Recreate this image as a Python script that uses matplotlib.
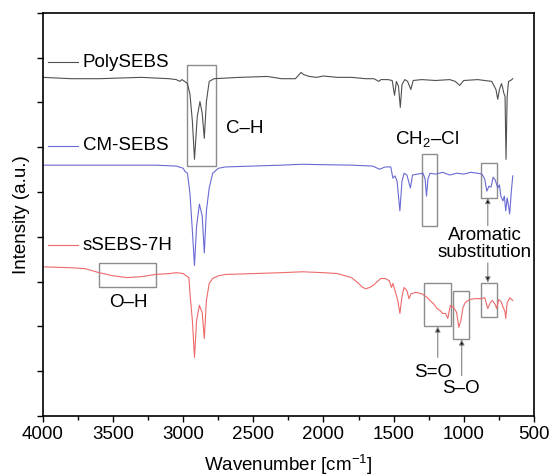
import matplotlib
matplotlib.use('Agg')
import matplotlib.pyplot as plt
from matplotlib.patches import Rectangle

plt.rcParams['font.family'] = ['Liberation Sans', 'DejaVu Sans']
plt.rcParams['mathtext.fontset'] = 'custom'
plt.rcParams['mathtext.rm'] = 'Liberation Sans'
plt.rcParams['mathtext.it'] = 'Liberation Sans'

# spectra: wavenumber [cm-1] and offset intensity
poly_wn = [4000, 3800, 3600, 3300, 3100, 3050, 3025, 3010, 2990, 2970, 2952, 2935, 2920, 2900,
           2881, 2865, 2850, 2835, 2815, 2780, 2600, 2400, 2300, 2200, 2160, 2140, 2100, 2050,
           2000, 1900, 1800, 1700, 1640, 1605, 1590, 1540, 1510, 1493, 1480, 1465, 1452, 1440,
           1420, 1400, 1377, 1360, 1300, 1200, 1100, 1060, 1028, 1000, 900, 850, 800, 770, 757,
           745, 730, 722, 715, 705, 698, 690, 680, 665, 650]
poly_int = [7.56, 7.53, 7.53, 7.56, 7.53, 7.51, 7.47, 7.51, 7.47, 7.42, 7.18, 6.58, 5.73, 6.69,
            7.02, 6.76, 6.20, 7.02, 7.47, 7.53, 7.56, 7.58, 7.53, 7.53, 7.67, 7.62, 7.58, 7.56,
            7.59, 7.56, 7.56, 7.53, 7.53, 7.47, 7.51, 7.51, 7.49, 7.16, 7.47, 7.36, 6.89, 7.40,
            7.51, 7.47, 7.29, 7.49, 7.51, 7.49, 7.51, 7.47, 7.38, 7.49, 7.51, 7.49, 7.47, 7.29,
            7.07, 7.29, 7.42, 7.33, 7.22, 7.13, 5.73, 7.13, 7.47, 7.49, 7.53]

cm_wn = [4000, 3600, 3200, 3050, 3000, 2990, 2970, 2952, 2935, 2920, 2905, 2885, 2865, 2850,
         2835, 2815, 2790, 2750, 2700, 2500, 2300, 2150, 2000, 1800, 1650, 1600, 1560, 1520,
         1505, 1490, 1475, 1455, 1440, 1425, 1405, 1380, 1365, 1330, 1290, 1275, 1265, 1255,
         1240, 1200, 1150, 1100, 1050, 1000, 950, 900, 870, 850, 835, 820, 805, 790, 775, 757,
         745, 735, 720, 710, 700, 690, 680, 672, 660, 650]
cm_int = [5.60, 5.60, 5.60, 5.58, 5.53, 5.47, 5.42, 4.96, 4.13, 3.36, 4.24, 4.73, 4.47, 3.64,
          4.58, 5.09, 5.42, 5.53, 5.56, 5.58, 5.60, 5.62, 5.61, 5.60, 5.58, 5.51, 5.56, 5.56,
          5.31, 5.36, 5.24, 4.58, 5.24, 5.42, 5.38, 5.09, 5.38, 5.40, 5.42, 5.29, 4.91, 5.29,
          5.42, 5.40, 5.44, 5.38, 5.42, 5.40, 5.44, 5.42, 5.40, 5.29, 5.02, 5.13, 5.11, 5.33,
          5.27, 5.09, 5.16, 4.91, 4.80, 4.91, 4.58, 4.87, 4.69, 4.51, 5.02, 5.36]

s_wn = [4000, 3800, 3700, 3600, 3500, 3400, 3300, 3200, 3100, 3050, 3000, 2980, 2960, 2952,
        2935, 2920, 2905, 2885, 2865, 2850, 2835, 2815, 2790, 2750, 2700, 2500, 2300, 2150,
        2000, 1900, 1800, 1750, 1720, 1698, 1670, 1640, 1610, 1590, 1560, 1530, 1515, 1505,
        1490, 1470, 1455, 1440, 1425, 1405, 1390, 1375, 1340, 1300, 1270, 1240, 1210, 1190,
        1170, 1150, 1130, 1113, 1095, 1075, 1050, 1035, 1020, 1005, 990, 960, 920, 880, 850,
        828, 810, 795, 775, 765, 750, 735, 720, 705, 700, 690, 670, 650]
s_int = [3.33, 3.31, 3.29, 3.20, 3.13, 3.09, 3.11, 3.16, 3.18, 3.20, 3.18, 3.13, 3.09, 2.73,
         2.13, 1.31, 2.13, 2.47, 2.31, 1.73, 2.58, 2.96, 3.07, 3.13, 3.16, 3.18, 3.20, 3.22,
         3.20, 3.18, 3.09, 2.96, 2.87, 2.84, 2.87, 2.93, 3.02, 3.07, 3.07, 3.02, 2.87, 2.96,
         2.80, 2.58, 2.29, 2.67, 2.87, 2.80, 2.62, 2.73, 2.76, 2.73, 2.67, 2.58, 2.49, 2.40,
         2.36, 2.29, 2.29, 2.18, 2.47, 2.44, 2.31, 1.98, 2.13, 2.42, 2.53, 2.60, 2.62, 2.62,
         2.64, 2.40, 2.53, 2.58, 2.49, 2.40, 2.60, 2.56, 2.44, 2.33, 2.18, 2.53, 2.64, 2.58]

names = ['PolySEBS', 'CM-SEBS', 'sSEBS-7H']
colors = ['#505050', '#6a6ad4', '#ee6a6a']

fig = plt.figure(figsize=(5.52, 4.76), dpi=100)
ax = fig.add_axes([0.078, 0.126, 0.889, 0.847])

series = [(poly_wn, poly_int), (cm_wn, cm_int), (s_wn, s_int)]
for (wn, it), c in zip(series, colors):
    ax.plot(wn, it, color=c, lw=0.8)

fs = 13.5

# legend-like labels
leg_y = [0.878, 0.670, 0.424]
for name, c, yy in zip(names, colors, leg_y):
    ax.plot([0.010, 0.071], [yy, yy], color=c, lw=0.8, transform=ax.transAxes)
    ax.text(0.081, yy, name, transform=ax.transAxes, va='center', ha='left', fontsize=fs)

box_c = '#8c8c8c'
def box(x0, x1, y0, y1):
    ax.add_patch(Rectangle((x1, y0), x0 - x1, y1 - y0, fill=False, ec=box_c, lw=1.0))

box(2974, 2767, 5.58, 7.84)      # C-H
box(1299, 1192, 4.24, 5.84)      # CH2-Cl
box(878, 764, 4.87, 5.64)        # aromatic (CM-SEBS)
box(878, 764, 2.20, 2.98)        # aromatic (sSEBS)
box(1284, 1092, 2.00, 2.96)      # S=O
box(1078, 964, 1.71, 2.78)       # S-O
box(3601, 3195, 2.87, 3.42)      # O-H

ax.text(2560, 6.42, 'C–H', ha='center', va='center', fontsize=fs)
ax.text(1263, 6.18, 'CH$_2$–Cl', ha='center', va='center', fontsize=fs)
ax.text(3394, 2.53, 'O–H', ha='center', va='center', fontsize=fs)
ax.text(850, 3.84, 'Aromatic\nsubstitution', ha='center', va='center', fontsize=fs,
        linespacing=0.95)
ax.text(1220, 0.98, 'S=O', ha='center', va='center', fontsize=fs)
ax.text(1020, 0.62, 'S–O', ha='center', va='center', fontsize=fs)

ap = dict(arrowstyle='-|>', color='#808080', fc='k', lw=0.8, mutation_scale=8,
          shrinkA=0, shrinkB=0)
ax.annotate('', xy=(828, 4.87), xytext=(828, 4.25), arrowprops=ap)
ax.annotate('', xy=(828, 2.98), xytext=(828, 3.42), arrowprops=ap)
ax.annotate('', xy=(1185, 2.0), xytext=(1185, 1.31), arrowprops=ap)
ax.annotate('', xy=(1014, 1.71), xytext=(1014, 0.90), arrowprops=ap)

ax.set_xlim(4000, 500)
ax.set_ylim(0, 9)
ax.set_xticks(range(4000, 499, -500))
ax.set_xticks(range(3750, 500, -500), minor=True)
ax.set_yticks(range(0, 10))
ax.set_yticklabels([])
ax.tick_params(direction='out', length=4, width=1, labelsize=fs)
ax.tick_params(which='minor', direction='out', length=3, width=1)
for s in ax.spines.values():
    s.set_linewidth(1.2)

ax.set_xlabel('Wavenumber [cm$^{-1}$]', fontsize=fs, labelpad=7)
ax.set_ylabel('Intensity (a.u.)', fontsize=fs, labelpad=2)

fig.savefig('out.png', dpi=100)
